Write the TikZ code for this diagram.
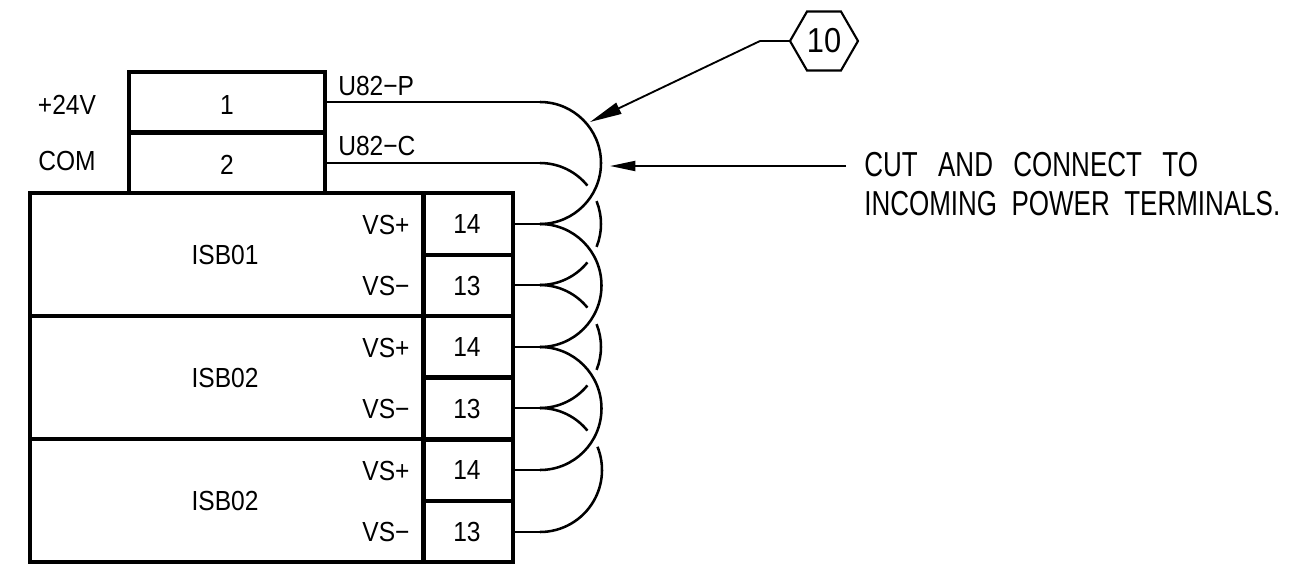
\documentclass[tikz,border=0pt]{standalone}
\usepackage{fontspec}
\setmainfont[FakeStretch=0.89]{Liberation Sans}
\newfontfamily\notefont[FakeStretch=0.75]{Liberation Sans}
\usetikzlibrary{arrows.meta,shapes.geometric}
\tikzset{
  heavybox/.style={draw,line width=3pt,inner sep=0pt,outer sep=0pt,anchor=north west},
  wire/.style={line width=1.9pt},
  leader/.style={line width=1.4pt,-{Triangle[length=24pt,width=9pt]}},
  label/.style={inner sep=0.75pt,font=\fontsize{20.7}{24}\selectfont},
  note/.style={inner sep=0.75pt,anchor=west,font=\notefont\fontsize{26}{30}\selectfont},
}
\begin{document}
\begin{tikzpicture}[x=0.75pt,y=0.75pt,yscale=-1,xscale=1]
\useasboundingbox (0,0) rectangle (1297,568);

%Modules
\node [heavybox,minimum width=295.5pt,minimum height=92.25pt] (isbA) at (30,193) {};
\node [heavybox,minimum width=295.5pt,minimum height=92.25pt] (isbB) at (30,316) {};
\node [heavybox,minimum width=295.5pt,minimum height=92.25pt] (isbC) at (30,439) {};
%Top terminals
\node [heavybox,minimum width=147pt,minimum height=45.75pt] (topP) at (129,72) {};
\node [heavybox,minimum width=147pt,minimum height=45.75pt] (topC) at (129,132) {};
%Side terminals
\node [heavybox,minimum width=67.5pt,minimum height=46.5pt] (plusA) at (423,193) {};
\node [heavybox,minimum width=67.5pt,minimum height=46pt] (minusA) at (423,255) {};
\node [heavybox,minimum width=67.5pt,minimum height=46pt] (plusB) at (423,316) {};
\node [heavybox,minimum width=67.5pt,minimum height=46.5pt] (minusB) at (423,378) {};
\node [heavybox,minimum width=67.5pt,minimum height=46.5pt] (plusC) at (423,439) {};
\node [heavybox,minimum width=67.5pt,minimum height=46pt] (minusC) at (423,501) {};

%Wire ends
\coordinate (bendP) at (540,102);
\coordinate (bendC) at (540,163);
\coordinate (bendA) at (540,224);
\coordinate (bendD) at (540,285);
\coordinate (bendB) at (540,347);
\coordinate (bendE) at (540,408);
\coordinate (bendF) at (540,470);
\coordinate (bendG) at (540,532);

%Straight Lines
\draw [wire] (topP.east |- bendP) -- (bendP);
\draw [wire] (topC.east |- bendC) -- (bendC);
\draw [wire] (plusA.east |- bendA) -- (bendA);
\draw [wire] (minusA.east |- bendD) -- (bendD);
\draw [wire] (plusB.east |- bendB) -- (bendB);
\draw [wire] (minusB.east |- bendE) -- (bendE);
\draw [wire] (plusC.east |- bendF) -- (bendF);
\draw [wire] (minusC.east |- bendG) -- (bendG);
%Loops
\draw [wire] (bendP) arc [start angle=-90,end angle=90,radius=61];
\draw [wire] (bendA) arc [start angle=-90,end angle=90,radius=61.5];
\draw [wire] (bendB) arc [start angle=-90,end angle=90,radius=61.5];
%Short branches
\draw [wire] (bendC) arc [start angle=-90,end angle=-39,radius=61];
\draw [wire] (bendD) arc [start angle=-90,end angle=-39,radius=61];
\draw [wire] (bendD) arc [start angle=90,end angle=39,radius=61];
\draw [wire] (bendE) arc [start angle=-90,end angle=-39,radius=61];
\draw [wire] (bendE) arc [start angle=90,end angle=39,radius=61];
%Hops
\draw [wire] ([shift={(-22:61)}]bendA) arc [start angle=-22,end angle=22,radius=61];
\draw [wire] ([shift={(-22:61)}]bendB) arc [start angle=-22,end angle=22,radius=61];
\draw [wire] (bendG) arc [start angle=90,end angle=-22,radius=62];

%Callout
\node [draw,line width=1.6pt,regular polygon,regular polygon sides=6,minimum size=51pt,inner sep=0pt,outer sep=0pt,font=\fontsize{26}{30}\selectfont] (hexTen) at (824,41) {10};
\coordinate (kneeTen) at (760,41);
\coordinate (tipTen) at (590,122);
\draw [line width=1.4pt] (hexTen.west) -- (kneeTen);
\draw [leader] (kneeTen) -- (tipTen);
\coordinate (tailCut) at (846,166);
\coordinate (tipCut) at (610,166);
\draw [leader,-{Triangle[length=19pt,width=7.5pt]}] (tailCut) -- (tipCut);

% Text Node
\node [label] (lblVolt) at (67,105) {+24V};
\node [label] (lblCom) at (67,161) {COM};
\node [label] at (227,105) {1};
\node [label] at (227,165) {2};
\node [label,anchor=west] (lblP) at (337,86) {U82−P};
\node [label,anchor=west] (lblC) at (337,146) {U82−C};
\node [label] at (225,255) {ISB01};
\node [label] at (225,378) {ISB02};
\node [label] at (225,501) {ISB02};
% Text Node
\node [label] at (386,225) {VS+};
\node [label] at (386,286) {VS−};
\node [label] at (386,348) {VS+};
\node [label] at (386,409) {VS−};
\node [label] at (386,471) {VS+};
\node [label] at (386,532) {VS−};
% Text Node
\node [label] at (467,224) {14};
\node [label] at (467,286) {13};
\node [label] at (467,347) {14};
\node [label] at (467,409) {13};
\node [label] at (467,470) {14};
\node [label] at (467,532) {13};
% Text Node
\node [note] (noteA) at (863,165) {CUT\ \ \hspace{4.5pt}AND\ \ \hspace{4.5pt}CONNECT\ \ \hspace{4.5pt}TO};
\node [note] (noteB) at (863,204) {INCOMING\ \ POWER\ \ TERMINALS.};

\end{tikzpicture}
\end{document}
